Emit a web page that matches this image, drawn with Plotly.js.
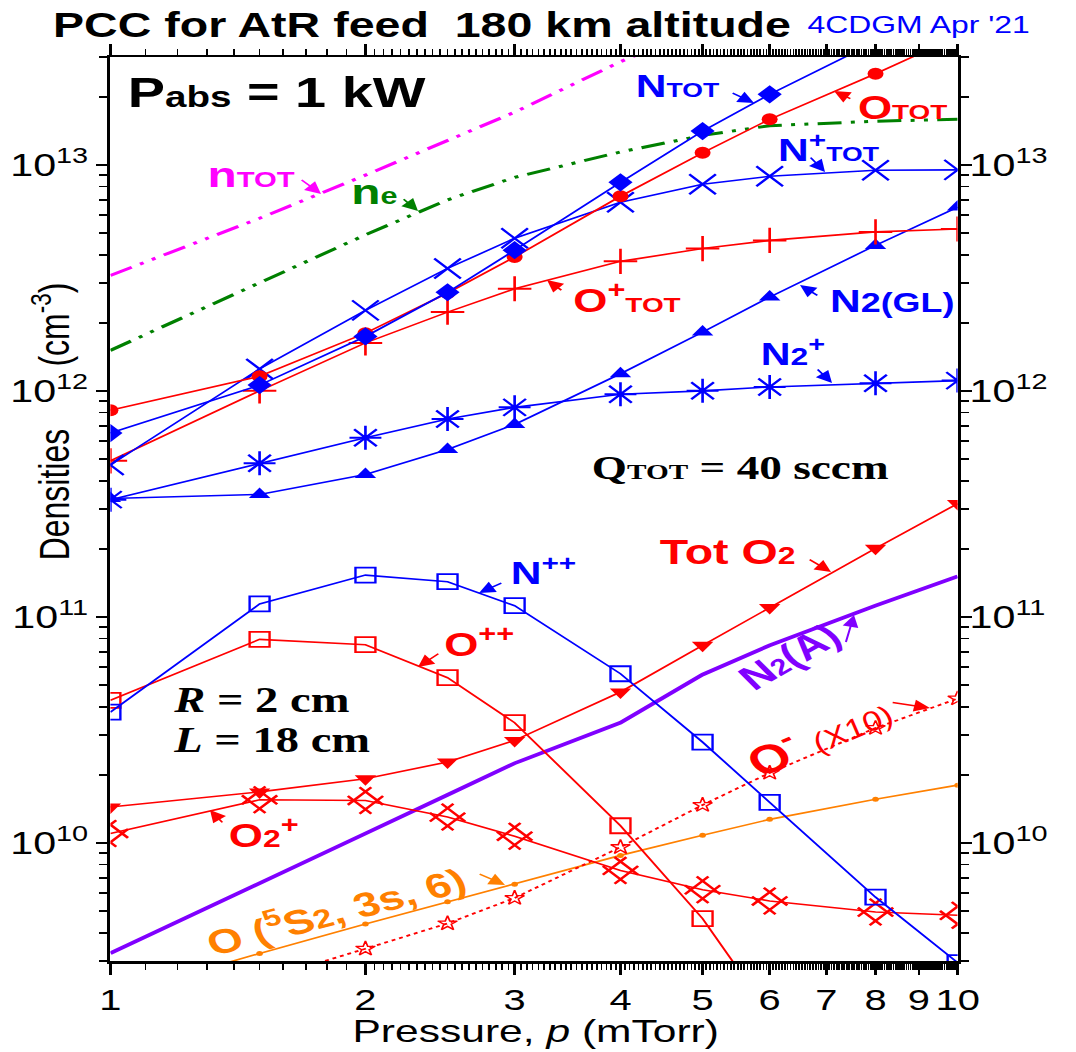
<!DOCTYPE html>
<html>
<head>
<meta charset="utf-8">
<script src="https://cdn.plot.ly/plotly-3.0.1.min.js"></script>
<style>
html,body{margin:0;padding:0;background:#fff;overflow:hidden;width:1076px;height:1052px}
#chart{width:809px;height:1052px;transform:scaleX(1.33004);transform-origin:0 0;}
</style>
</head>
<body>
<div id="chart"></div>
<script>
// ---------------- data ----------------
const pressure = [1, 1.5, 2, 2.5, 3, 4, 5, 6, 8, 10];            // mTorr
const nTot     = [3.24e12, 5.8e12, 9.0e12, 1.28e13, 1.71e13, 2.86e13, 4.04e13];
const nE       = [1.51e12, 3.0e12, 4.9e12, 7.0e12, 8.8e12, 1.14e13, 1.35e13, 1.49e13, 1.56e13, 1.59e13];
const nTotN    = [6.5e11, 1.06e12, 1.74e12, 2.73e12, 4.19e12, 8.37e12, 1.41e13, 2.05e13, 3.5e13, 5.0e13];
const oTot     = [8.2e11, 1.16e12, 1.8e12, 2.71e12, 3.91e12, 7.26e12, 1.13e13, 1.59e13, 2.53e13, 3.7e13];
const nPlusTot = [4.7e11, 1.25e12, 2.27e12, 3.48e12, 4.73e12, 6.83e12, 8.2e12, 8.9e12, 9.46e12, 9.5e12];
const oPlusTot = [4.9e11, 1.0e12, 1.63e12, 2.23e12, 2.83e12, 3.74e12, 4.26e12, 4.63e12, 5.05e12, 5.2e12];
const n2GL     = [3.34e11, 3.48e11, 4.26e11, 5.5e11, 7.1e11, 1.19e12, 1.82e12, 2.6e12, 4.4e12, 6.5e12];
const n2Plus   = [3.3e11, 4.78e11, 6.2e11, 7.5e11, 8.45e11, 9.66e11, 1.0e12, 1.04e12, 1.08e12, 1.11e12];
const nPP      = [3.79e10, 1.14e11, 1.53e11, 1.43e11, 1.12e11, 5.6e10, 2.79e10, 1.51e10, 5.75e9, 2.95e9];
const oPP      = [4.27e10, 7.95e10, 7.53e10, 5.38e10, 3.4e10, 1.19e10, 4.62e9, 1.75e9];
const totO2    = [1.44e10, 1.68e10, 1.92e10, 2.28e10, 2.84e10, 4.65e10, 7.48e10, 1.1e11, 2.01e11, 3.17e11];
const n2A      = [3.25e9, 6.6e9, 1.1e10, 1.63e10, 2.25e10, 3.4e10, 5.55e10, 7.48e10, 1.12e11, 1.51e11];
const o5S      = [2.1e9, 3.24e9, 4.37e9, 5.48e9, 6.55e9, 8.8e9, 1.08e10, 1.27e10, 1.56e10, 1.8e10];
const oMinusX10= [1.55e9, 2.45e9, 3.4e9, 4.4e9, 5.7e9, 9.57e9, 1.47e10, 2.04e10, 3.22e10, 4.35e10];
const o2Plus   = [1.1e10, 1.55e10, 1.54e10, 1.3e10, 1.07e10, 7.55e9, 6.2e9, 5.53e9, 4.94e9, 4.78e9];

const xTickVals = [1, 2, 3, 4, 5, 6, 7, 8, 9, 10];
const xTickText = ['1', '2', '3', '4', '5', '6', '7', '8', '9', '10'];
const yTickVals = [1e10, 1e11, 1e12, 1e13];
const yTickText = ['10<sup>10</sup>', '10<sup>11</sup>', '10<sup>12</sup>', '10<sup>13</sup>'];
const yRange = [3e9, 3e13];

// ---------------- geometry ----------------
const W = 809, H = 1052, S = 1076 / W;
const ML = 83, MR = 89, MT = 57, MB = 91;
const PX = px => (px / S - ML) / (W - ML - MR);   // outer pixel -> paper x
const PY = py => (H - MB - py) / (H - MT - MB);   // outer pixel -> paper y

const FONT = 'Liberation Sans, Arial, Helvetica, sans-serif';
const SERIF = 'Liberation Serif, Times New Roman, serif';
const BLUE = '#0000ff', RED = '#ff0000', MAG = '#ff00ff', GREEN = '#008000', PURP = '#8000ff', ORNG = '#ff8000';

// minor ticks
const xMinor = [];
for (let v = 1.1; v < 1.95; v += 0.1) xMinor.push(+v.toFixed(2));
for (let v = 2.05; v < 9.99; v += 0.05) { const r = +v.toFixed(2); if (Math.abs(r - Math.round(r)) > 1e-6) xMinor.push(r); }
const yMinor = [];
for (let e = 9; e <= 13; e++) for (let m = 2; m <= 9; m++) { const v = m * Math.pow(10, e); if (v >= yRange[0] && v <= yRange[1]) yMinor.push(v); }

function tr(y, color, o) {
  return Object.assign({
    x: pressure.slice(0, y.length), y: y, type: 'scatter', mode: 'lines+markers',
    line: {color: color, width: 1.6}, hoverinfo: 'skip', showlegend: false
  }, o);
}
const openM = (sym, size, color, w, extra) => Object.assign({symbol: sym, size: size, color: color, line: {color: color, width: w}}, extra || {});

const traces = [
  tr(nTot, MAG, {mode: 'lines', line: {color: MAG, width: 3, dash: '18px,7px,3px,7px,3px,7px'}}),
  tr(nE, GREEN, {mode: 'lines', line: {color: GREEN, width: 3, dash: '18px,7px,3px,7px,3px,7px'}}),
  tr(n2A, PURP, {mode: 'lines', line: {color: PURP, width: 3.6}}),
  tr(o5S, ORNG, {marker: {symbol: 'circle', size: 5, color: ORNG}, line: {color: ORNG, width: 1.6}}),
  tr(oMinusX10, RED, {line: {color: RED, width: 1.8, dash: 'dot'}, marker: openM('star-open', 11, RED, 1.3)}),
  tr(o2Plus, RED, {marker: openM('hash-open', 25, RED, 2.2, {angle: 45})}),
  tr(totO2, RED, {marker: {symbol: 'triangle-down', size: 14, color: RED}}),
  tr(oPP, RED, {marker: openM('square-open', 15, RED, 1.8)}),
  tr(nPP, BLUE, {marker: openM('square-open', 15, BLUE, 1.8)}),
  tr(n2Plus, BLUE, {marker: openM('asterisk-open', 20, BLUE, 2)}),
  tr(n2GL, BLUE, {marker: {symbol: 'triangle-up', size: 14, color: BLUE}}),
  tr(oPlusTot, RED, {marker: openM('cross-thin-open', 18, RED, 2)}),
  tr(nPlusTot, BLUE, {marker: openM('x-thin-open', 20, BLUE, 2)}),
  tr(oTot, RED, {marker: {symbol: 'circle', size: 12, color: RED}}),
  tr(nTotN, BLUE, {marker: {symbol: 'diamond', size: 14, color: BLUE}}),
  {x: [], y: [], type: 'scatter', mode: 'lines', yaxis: 'y2', hoverinfo: 'skip', showlegend: false}
];

// ---------------- annotations ----------------
function lab(text, px, py, color, size, extra) {
  return Object.assign({xref: 'paper', yref: 'paper', x: PX(px), y: PY(py), text: text, showarrow: false,
    xanchor: 'center', yanchor: 'middle', font: {family: FONT, size: size, color: color}}, extra || {});
}
function arr(tx, ty, hx, hy, color) {
  return {xref: 'paper', yref: 'paper', x: PX(hx), y: PY(hy), ax: (tx - hx) / S, ay: (ty - hy),
    axref: 'pixel', ayref: 'pixel', text: '&nbsp;', font: {size: 2, color: color}, showarrow: true, arrowhead: 2, arrowsize: 1.6,
    arrowwidth: 1.5, arrowcolor: color, standoff: 0};
}
const sm = (t, s) => '<span style="font-size:' + s + 'px">' + t + '</span>';
const serif = (s) => ({family: SERIF, size: s, color: '#000'});

const annotations = [
  lab("4CDGM Apr '21", 918, 25, BLUE, 24),
  lab('<b>P' + sm('abs', 29) + ' = 1 kW</b>', 276, 93, '#000', 42),
  lab('<b>n' + sm('TOT', 22) + '</b>', 251, 174, MAG, 36),
  arr(299, 178, 321, 194, MAG),
  lab('<b>n' + sm('e', 23) + '</b>', 374, 192, GREEN, 36),
  arr(401, 197, 418, 211, GREEN),
  lab('<b>N' + sm('TOT', 20) + '</b>', 678, 86, BLUE, 32),
  arr(730, 92, 754, 103, BLUE),
  lab('<b>O' + sm('TOT', 21) + '</b>', 903, 107, RED, 33),
  arr(853, 100, 834, 91, RED),
  lab('<b>N<sup>+</sup>' + sm('TOT', 20) + '</b>', 828, 148, BLUE, 32),
  arr(808, 155, 825, 172, BLUE),
  lab('<b>O<sup>+</sup>' + sm('TOT', 21) + '</b>', 627, 298, RED, 33),
  arr(564, 292, 547, 280, RED),
  lab('<b>N' + sm('2(GL)', 27) + '</b>', 893, 301, BLUE, 32),
  arr(820, 297, 800, 285, BLUE),
  lab('<b>N' + sm('2', 24) + '<sup>+</sup></b>', 793, 352, BLUE, 31),
  arr(815, 367, 832, 383, BLUE),
  lab('<b>Q' + sm('TOT', 22) + ' = 40 sccm</b>', 740, 467, '#000', 34, {font: serif(34)}),
  lab('<b>N<sup>++</sup></b>', 543, 571, BLUE, 32),
  arr(504, 582, 479, 593, BLUE),
  lab('<b>O<sup>++</sup></b>', 480, 642, RED, 33),
  arr(441, 652, 418, 667, RED),
  lab('<b>Tot O' + sm('2', 24) + '</b>', 728, 551, RED, 35),
  arr(807, 558, 831, 572, RED),
  lab('<b>N' + sm('2', 23) + '(A)</b>', 790, 656, PURP, 34, {textangle: -37}),
  arr(845, 645, 854, 615, PURP),
  lab('<b><i>R</i> = 2 cm</b>', 170, 700, '#000', 35, {xanchor: 'left', font: serif(35)}),
  lab('<b><i>L</i> = 18 cm</b>', 170, 740, '#000', 35, {xanchor: 'left', font: serif(35)}),
  lab('<b>O</b><sup><b>-</b></sup> ' + sm('<i>(X10)</i>', 27), 818, 735, RED, 40, {textangle: -29}),
  arr(890, 702, 930, 708, RED),
  lab('<b>O' + sm('2', 24) + '<sup>+</sup></b>', 264, 833, RED, 33),
  arr(225, 825, 210, 810, RED),
  lab('<b>O (<sup>5</sup>S' + sm('2', 26) + ', 3s, 6)</b>', 334, 909, ORNG, 34, {textangle: -19}),
  arr(477, 873, 505, 885, ORNG),
  lab('Densities&nbsp;&nbsp;&nbsp;&nbsp;&nbsp;&nbsp;&nbsp;(cm<sup>-3</sup>)', 51, 421, '#000', 32, {textangle: -90}),
  lab('Pressure, <i>p</i> (mTorr)', 536, 1031, '#000', 32)
];

const tickFont = {family: FONT, size: 31, color: '#000'};
const layout = {
  width: W, height: H,
  margin: {l: ML, r: MR, t: MT, b: MB, pad: 0},
  paper_bgcolor: '#fff', plot_bgcolor: '#fff', showlegend: false,
  title: {text: '<b>PCC for AtR feed&nbsp; 180 km altitude</b>', font: {family: FONT, size: 35, color: '#000'},
    xref: 'paper', x: PX(422), xanchor: 'center', yref: 'container', y: 1 - 25 / H, yanchor: 'middle'},
  xaxis: {type: 'log', range: [0, 1], tickmode: 'array', tickvals: xTickVals, ticktext: xTickText,
    ticks: 'outside', ticklen: 11, tickwidth: 2, tickcolor: '#000', showline: true, linewidth: 2.5, linecolor: '#000',
    mirror: 'ticks', showgrid: false, zeroline: false, tickfont: {family: FONT, size: 30, color: '#000'},
    minor: {tickmode: 'array', tickvals: xMinor, ticks: 'outside', ticklen: 6, tickwidth: 1.3, tickcolor: '#000', showgrid: false}},
  yaxis: {type: 'log', range: [Math.log10(yRange[0]), Math.log10(yRange[1])], tickmode: 'array', tickvals: yTickVals, ticktext: yTickText,
    ticks: 'outside', ticklen: 8, tickwidth: 2, tickcolor: '#000', showline: true, linewidth: 2.5, linecolor: '#000',
    mirror: 'ticks', showgrid: false, zeroline: false, tickfont: tickFont,
    minor: {tickmode: 'array', tickvals: yMinor, ticks: 'outside', ticklen: 6, tickwidth: 1.5, tickcolor: '#000', showgrid: false}},
  yaxis2: {type: 'log', overlaying: 'y', side: 'right', range: [Math.log10(yRange[0]), Math.log10(yRange[1])],
    tickmode: 'array', tickvals: yTickVals, ticktext: yTickText, ticks: '', showline: false, showgrid: false,
    zeroline: false, tickfont: tickFont, ticklabelstandoff: 8},
  annotations: annotations
};

Plotly.newPlot('chart', traces, layout, {staticPlot: true, displayModeBar: false});
</script>
</body>
</html>
